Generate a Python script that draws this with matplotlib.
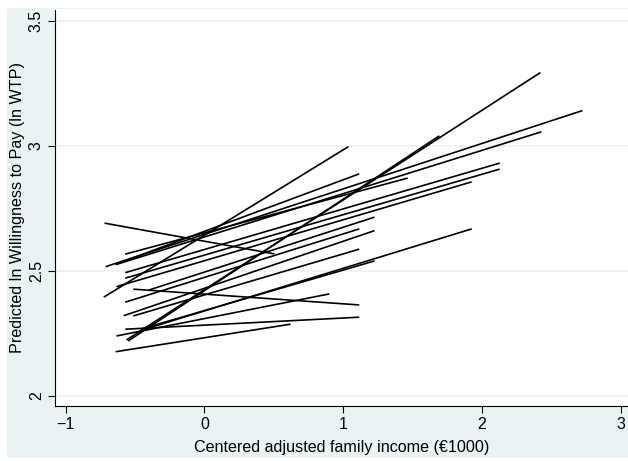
import matplotlib
matplotlib.use("Agg")
import matplotlib.pyplot as plt
from matplotlib.patches import Rectangle

plt.rcParams['font.family'] = ['Liberation Sans', 'DejaVu Sans']

# Predicted lines per group: start (x0, y0) and end (x1, y1)
x_start = [-0.72, -0.726, -0.712, -0.571, -0.64, -0.571, -0.571, -0.634,
           -0.513, -0.562, -0.55, -0.571, -0.582, -0.571, -0.634, -0.64,
           -0.46, -0.46, -0.513, -0.398, -0.55]
y_start = [2.691, 2.395, 2.517, 2.567, 2.525, 2.493, 2.471, 2.437,
           2.427, 2.224, 2.22, 2.375, 2.321, 2.267, 2.24, 2.177,
           2.262, 2.267, 2.32, 2.424, 2.545]
x_end = [0.504, 1.037, 2.723, 1.464, 2.427, 2.127, 2.127, 1.925,
         1.115, 2.42, 1.692, 1.115, 1.225, 1.115, 0.899, 0.62,
         1.925, 1.225, 1.115, 1.225, 1.115]
y_end = [2.568, 2.997, 3.141, 2.871, 3.056, 2.931, 2.907, 2.856,
         2.364, 3.293, 3.04, 2.668, 2.661, 2.315, 2.408, 2.287,
         2.668, 2.54, 2.587, 2.715, 2.888]

x_ticks = [-1, 0, 1, 2, 3]
y_ticks = [2, 2.5, 3, 3.5]

W, H = 628, 461
fig = plt.figure(figsize=(W / 100, H / 100), dpi=100)
fig.patch.set_facecolor('white')
# Stata-like graph region, kept behind the axes
fig.patches.append(Rectangle((7 / W, 1 - 458 / H), 1 - 7 / W, 450 / H,
                             transform=fig.transFigure, facecolor='#eaf2f3',
                             edgecolor='none', zorder=-10))

ax = fig.add_axes([55 / W, 1 - 406 / H, 1 - 55 / W, (406 - 9.5) / H], zorder=1)
ax.set_facecolor('white')

for xs, ys, xe, ye in zip(x_start, y_start, x_end, y_end):
    ax.plot([xs, xe], [ys, ye], color='black', lw=1.2, solid_capstyle='butt')

ax.set_xlim(-1.077, 3.051)
ax.set_ylim(1.96, 3.545)
ax.set_xticks(x_ticks)
ax.set_yticks(y_ticks)
ax.set_yticklabels([f'{v:g}' for v in y_ticks], rotation=90, va='center')
ax.grid(axis='y', color='#eaf2f3', lw=1.2)
ax.set_axisbelow(True)

for s in ['top', 'right']:
    ax.spines[s].set_visible(False)
for s in ['left', 'bottom']:
    ax.spines[s].set_color('black')
    ax.spines[s].set_linewidth(0.8)
ax.tick_params(direction='out', length=5, width=0.8, labelsize=11.5, pad=3)

ax.set_xlabel('Centered adjusted family income (€1000)', fontsize=11.6, labelpad=6)
ax.set_ylabel('Predicted ln Willingness to Pay (ln WTP)', fontsize=11.6, labelpad=3)

fig.savefig('out.png', dpi=100)
